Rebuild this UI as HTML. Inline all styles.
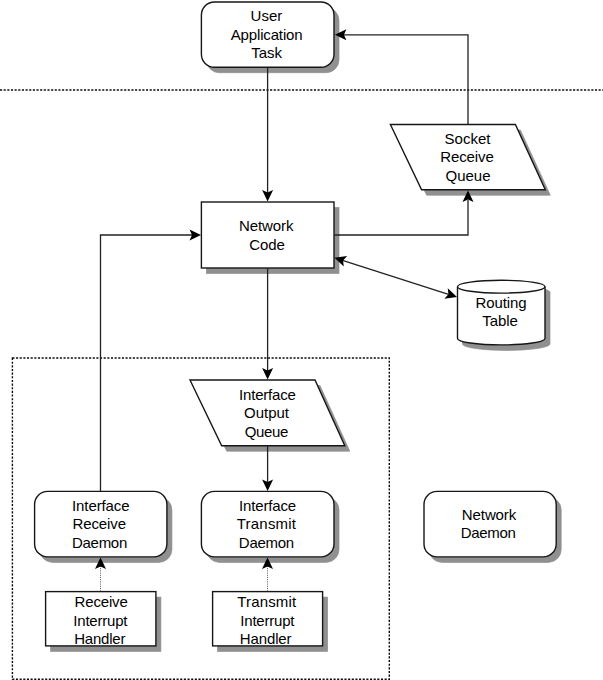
<!DOCTYPE html>
<html>
<head>
<meta charset="utf-8">
<title>Network diagram</title>
<style>
html,body{margin:0;padding:0;background:#fff;}
body{width:603px;height:680px;overflow:hidden;}
svg{display:block;}
text{font-family:"Liberation Sans",sans-serif;font-size:15px;fill:#000;text-anchor:middle;}
.sh{fill:#909090;stroke:#909090;stroke-width:0.7;transform:translate(0px,0.5px);}
.bx{fill:#ffffff;stroke:#161616;stroke-width:1.4;}
.ln{fill:none;stroke:#222;stroke-width:1.3;}
.dot{fill:none;stroke:#0a0a0a;stroke-width:1.4;stroke-dasharray:2.1 1.55;}
.fdot{fill:none;stroke:#5a5a5a;stroke-width:1;stroke-dasharray:1 1.2;}
.ah{fill:#000;stroke:none;}
</style>
</head>
<body>
<svg width="603" height="680" viewBox="0 0 603 680">
<rect x="0" y="0" width="603" height="680" fill="#ffffff"/>

<!-- dotted separators -->
<line class="dot" x1="0" y1="90" x2="603" y2="90"/>
<rect class="dot" x="12.4" y="358" width="376.9" height="321.3"/>

<!-- User Application Task -->
<rect class="sh" x="206.4" y="7" width="132.6" height="65.2" rx="13" ry="13"/>
<rect class="bx" x="201.4" y="2" width="132.6" height="65.2" rx="13" ry="13"/>
<text x="266.4" y="21">User</text>
<text x="266.6" y="39.5" letter-spacing="-0.15">Application</text>
<text x="266.6" y="57.5">Task</text>

<!-- Socket Receive Queue -->
<polygon class="sh" points="395.4,129.5 520.4,129.5 550.3,194.7 426.6,194.7"/>
<polygon class="bx" points="390.4,124.5 515.4,124.5 545.3,189.7 421.6,189.7"/>
<text x="467.5" y="144">Socket</text>
<text x="467" y="162" letter-spacing="-0.1">Receive</text>
<text x="468" y="180.5">Queue</text>

<!-- Network Code -->
<rect class="sh" x="206.4" y="207" width="132.6" height="66"/>
<rect class="bx" x="201.4" y="202" width="132.6" height="66"/>
<text x="266.2" y="231" letter-spacing="-0.1">Network</text>
<text x="267" y="250" letter-spacing="-0.1">Code</text>

<!-- Routing Table -->
<path class="sh" d="M462.5,291.7 L462.5,343.5 A43.75,6.4 0 0 0 550,343.5 L550,291.7 A43.75,6.4 0 0 0 462.5,291.7 Z"/>
<path class="bx" d="M457.5,286.7 L457.5,338.5 A43.75,6.4 0 0 0 545,338.5 L545,286.7"/>
<ellipse class="bx" cx="501.25" cy="286.7" rx="43.75" ry="6.4"/>
<text x="501" y="308" letter-spacing="-0.1">Routing</text>
<text x="500" y="325.5" letter-spacing="-0.1">Table</text>

<!-- Interface Output Queue -->
<polygon class="sh" points="195,385 320,385 349.8,450.7 226.7,450.7"/>
<polygon class="bx" points="190,380 315,380 344.8,445.7 221.7,445.7"/>
<text x="267.4" y="399.6" letter-spacing="-0.2">Interface</text>
<text x="266.5" y="418.1">Output</text>
<text x="266.4" y="436.6" letter-spacing="-0.3">Queue</text>

<!-- Interface Receive Daemon -->
<rect class="sh" x="39.6" y="496.4" width="132.3" height="65.5" rx="13" ry="13"/>
<rect class="bx" x="34.6" y="491.4" width="132.3" height="65.5" rx="13" ry="13"/>
<text x="100.75" y="510.8" letter-spacing="-0.1">Interface</text>
<text x="99.2" y="528.8" letter-spacing="-0.1">Receive</text>
<text x="99.5" y="547.6" letter-spacing="-0.3">Daemon</text>

<!-- Interface Transmit Daemon -->
<rect class="sh" x="206.4" y="496.4" width="132.6" height="65.5" rx="13" ry="13"/>
<rect class="bx" x="201.4" y="491.4" width="132.6" height="65.5" rx="13" ry="13"/>
<text x="267.5" y="510.8" letter-spacing="-0.15">Interface</text>
<text x="266.5" y="528.8" letter-spacing="0.2">Transmit</text>
<text x="266.3" y="547.6" letter-spacing="-0.3">Daemon</text>

<!-- Network Daemon -->
<rect class="sh" x="429" y="496.4" width="132.2" height="65.5" rx="13" ry="13"/>
<rect class="bx" x="424" y="491.4" width="132.2" height="65.5" rx="13" ry="13"/>
<text x="489" y="520" letter-spacing="-0.1">Network</text>
<text x="488.1" y="537.5" letter-spacing="-0.3">Daemon</text>

<!-- Receive Interrupt Handler -->
<rect class="sh" x="50.6" y="596.6" width="110.3" height="54.3"/>
<rect class="bx" x="45.6" y="591.6" width="110.3" height="54.3"/>
<text x="101.1" y="607" letter-spacing="-0.15">Receive</text>
<text x="100.3" y="625.8" letter-spacing="-0.2">Interrupt</text>
<text x="99.75" y="644" letter-spacing="-0.2">Handler</text>

<!-- Transmit Interrupt Handler -->
<rect class="sh" x="217.6" y="596.6" width="110" height="54.3"/>
<rect class="bx" x="212.6" y="591.6" width="110" height="54.3"/>
<text x="266.75" y="607" letter-spacing="0.15">Transmit</text>
<text x="267.3" y="625.8" letter-spacing="-0.2">Interrupt</text>
<text x="265.6" y="644" letter-spacing="-0.1">Handler</text>

<!-- connectors -->
<line class="ln" x1="267.6" y1="67.6" x2="267.6" y2="193"/>
<polyline class="ln" points="334.4,235 468,235 468,200"/>
<polyline class="ln" points="468,124.1 468,34.85 343,34.85"/>
<polyline class="ln" points="100.5,491 100.5,235 192,235"/>
<line class="ln" x1="267.6" y1="268.4" x2="267.6" y2="371"/>
<line class="ln" x1="267.6" y1="446.1" x2="267.6" y2="482"/>
<line class="ln" x1="342.5" y1="260.3" x2="448.5" y2="294.3"/>
<line class="fdot" x1="100.5" y1="566" x2="100.5" y2="591.5"/>
<line class="fdot" x1="267.5" y1="566" x2="267.5" y2="591.5"/>

<!-- arrowheads (tip at origin, pointing +x) -->
<defs>
<path id="ah" d="M0,0 L-11.5,-5.5 L-9,0 L-11.5,5.5 Z"/>
</defs>
<use href="#ah" class="ah" transform="translate(267.6,201.6) rotate(90)"/>
<use href="#ah" class="ah" transform="translate(468,190.4) rotate(-90)"/>
<use href="#ah" class="ah" transform="translate(334.9,34.85) rotate(180)"/>
<use href="#ah" class="ah" transform="translate(201,235)"/>
<use href="#ah" class="ah" transform="translate(267.6,379.6) rotate(90)"/>
<use href="#ah" class="ah" transform="translate(267.6,491) rotate(90)"/>
<use href="#ah" class="ah" transform="translate(334.5,257.7) rotate(197.8)"/>
<use href="#ah" class="ah" transform="translate(457,297) rotate(17.8)"/>
<use href="#ah" class="ah" transform="translate(100.5,557.6) rotate(-90)"/>
<use href="#ah" class="ah" transform="translate(267.5,557.6) rotate(-90)"/>
</svg>
</body>
</html>
